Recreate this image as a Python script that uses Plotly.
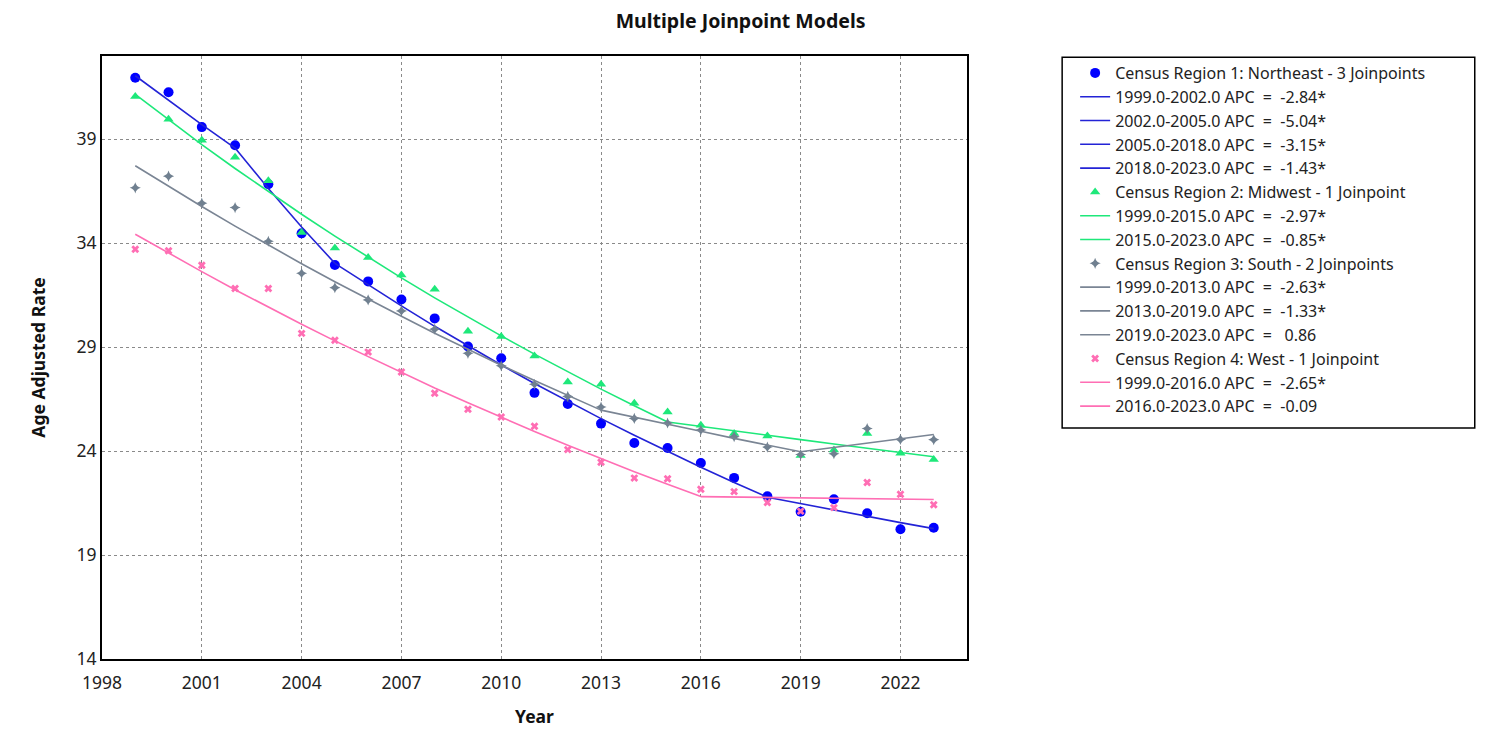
import plotly.graph_objects as go

# observed age adjusted rates per census region, 1999-2023
years = list(range(1999, 2024))
northeast = [41.95, 41.26, 39.58, 38.71, 36.83, 34.47, 32.95, 32.16, 31.29, 30.38,
             29.03, 28.46, 26.80, 26.26, 25.32, 24.39, 24.15, 23.43, 22.71, 21.83,
             21.08, 21.68, 21.01, 20.24, 20.31]
midwest = [41.05, 39.96, 38.95, 38.13, 37.00, 34.51, 33.77, 33.31, 32.47, 31.78,
           29.76, 29.51, 28.57, 27.32, 27.21, 26.30, 25.88, 25.24, 24.84, 24.72,
           23.79, 24.05, 24.85, 23.89, 23.59]
south = [36.66, 37.22, 35.92, 35.71, 34.09, 32.55, 31.86, 31.27, 30.74, 29.86,
         28.70, 28.10, 27.21, 26.63, 26.12, 25.57, 25.35, 25.01, 24.69, 24.19,
         23.83, 23.87, 25.08, 24.56, 24.55]
west = [33.71, 33.63, 32.94, 31.82, 31.82, 29.66, 29.33, 28.76, 27.80, 26.78,
        26.01, 25.64, 25.19, 24.07, 23.46, 22.70, 22.67, 22.16, 22.05, 21.53,
        21.11, 21.28, 22.49, 21.92, 21.42]

# modeled (joinpoint) values
northeast_fit = [42.05, 40.86, 39.70, 38.57, 36.63, 34.78, 33.03, 31.99, 30.98, 30.00,
                 29.06, 28.14, 27.25, 26.39, 25.56, 24.76, 23.98, 23.22, 22.49, 21.78,
                 21.47, 21.16, 20.86, 20.56, 20.27]
midwest_fit = [41.15, 39.93, 38.74, 37.59, 36.47, 35.39, 34.34, 33.32, 32.33, 31.37,
               30.44, 29.54, 28.66, 27.81, 26.98, 26.18, 25.40, 25.18, 24.97, 24.76,
               24.55, 24.34, 24.13, 23.93, 23.73]
south_fit = [37.72, 36.73, 35.76, 34.82, 33.90, 33.01, 32.14, 31.30, 30.48, 29.67,
             28.89, 28.13, 27.39, 26.67, 25.97, 25.62, 25.28, 24.95, 24.61, 24.29,
             23.97, 24.17, 24.38, 24.59, 24.80]
west_fit = [34.43, 33.52, 32.63, 31.76, 30.92, 30.10, 29.30, 28.53, 27.77, 27.03,
            26.32, 25.62, 24.94, 24.28, 23.64, 23.01, 22.40, 21.81, 21.79, 21.77,
            21.75, 21.73, 21.71, 21.69, 21.67]

# segments: (start, end, APC label)
northeast_segments = [(1999, 2002, "-2.84*"), (2002, 2005, "-5.04*"),
                      (2005, 2018, "-3.15*"), (2018, 2023, "-1.43*")]
midwest_segments = [(1999, 2015, "-2.97*"), (2015, 2023, "-0.85*")]
south_segments = [(1999, 2013, "-2.63*"), (2013, 2019, "-1.33*"), (2019, 2023, " 0.86")]
west_segments = [(1999, 2016, "-2.65*"), (2016, 2023, "-0.09")]

regions = [
    ("Census Region 1: Northeast - 3 Joinpoints", northeast, northeast_fit, northeast_segments,
     "#0000ff", "#2323d6", "circle", 10),
    ("Census Region 2: Midwest - 1 Joinpoint", midwest, midwest_fit, midwest_segments,
     "#1ee87a", "#1ee87a", "triangle-up", 9),
    ("Census Region 3: South - 2 Joinpoints", south, south_fit, south_segments,
     "#708090", "#7a8594", "star-diamond", 8),
    ("Census Region 4: West - 1 Joinpoint", west, west_fit, west_segments,
     "#ff6eb4", "#ff6eb4", "x", 7),
]

fig = go.Figure()
grp = 0
for name, obs, fit, segs, pcolor, lcolor, symbol, msize in regions:
    fig.add_trace(go.Scatter(
        x=years, y=obs, mode="markers", name=name,
        marker=dict(color=pcolor, symbol=symbol, size=msize, line=dict(width=0)),
        legendgroup=f"g{grp}", legendrank=grp,
    ))
    grp += 1
    for start, end, apc in segs:
        i0, i1 = years.index(start), years.index(end)
        fig.add_trace(go.Scatter(
            x=years[i0:i1 + 1], y=fit[i0:i1 + 1], mode="lines",
            name=f"{start}.0-{end}.0 APC  =  {apc}",
            line=dict(color=lcolor, width=1.6),
            legendgroup=f"g{grp}", legendrank=grp,
        ))
        grp += 1

font_family = "Noto Sans, Open Sans, sans-serif"

# page body adds an 8px offset, so size and margins are reduced accordingly
fig.update_layout(
    width=1480, height=725,
    margin=dict(l=94, r=521, t=48, b=74),
    paper_bgcolor="white", plot_bgcolor="white",
    font=dict(family=font_family, size=17.5, color="#222"),
    title=dict(text="<b>Multiple Joinpoint Models</b>", x=0.495, xanchor="center",
               yref="paper", y=1.0, yanchor="bottom", pad=dict(b=28),
               font=dict(size=19.5, color="#111")),
    legend=dict(x=1.125, y=1.0, xanchor="left", yanchor="top",
                font=dict(size=16, color="#222"), traceorder="grouped",
                tracegroupgap=0, itemwidth=30, bgcolor="rgba(0,0,0,0)",
                borderwidth=0),
    showlegend=True,
)

fig.update_xaxes(
    range=[1998, 2024], tick0=1998, dtick=3, showline=True, mirror=True,
    linecolor="black", linewidth=2, showgrid=True, gridcolor="#8a8a8a",
    griddash="dot", gridwidth=1, zeroline=False, ticks="", ticklabelstandoff=7,
    automargin=False,
    title=dict(text="<b>Year</b>", font=dict(size=17.5, color="#111"), standoff=18),
)
fig.update_yaxes(
    range=[14, 43], tick0=14, dtick=5, showline=True, mirror=True,
    linecolor="black", linewidth=2, showgrid=True, gridcolor="#8a8a8a",
    griddash="dot", gridwidth=1, zeroline=False, ticks="", automargin=False,
    title=dict(text="<b>Age Adjusted Rate</b>", font=dict(size=17.5, color="#111"), standoff=26),
)

# legend frame
fig.add_shape(type="rect", xref="paper", yref="paper",
              x0=1.110, x1=1.587, y0=0.383, y1=0.998,
              line=dict(color="black", width=1.5), fillcolor="rgba(0,0,0,0)")

fig.write_html("out.html")
